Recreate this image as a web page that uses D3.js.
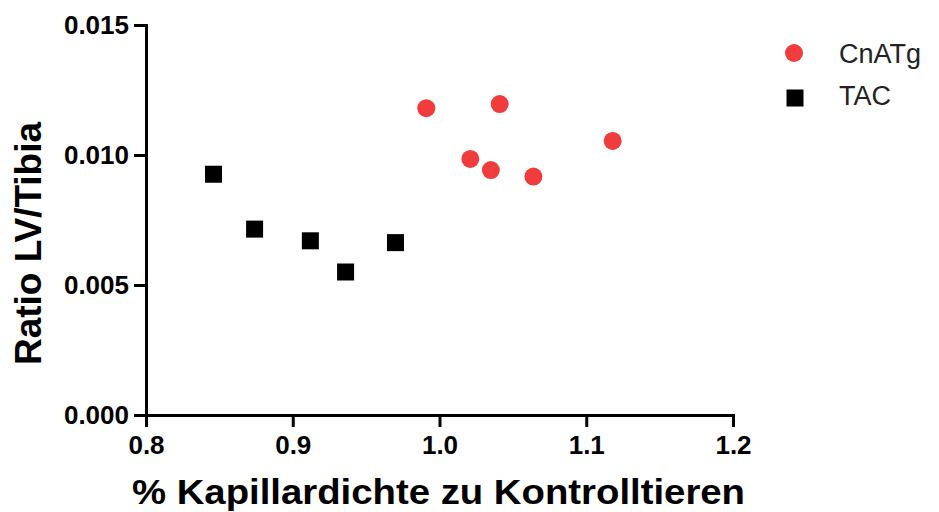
<!DOCTYPE html>
<html>
<head>
<meta charset="utf-8">
<script src="https://cdn.jsdelivr.net/npm/d3@7"></script>
<style>
  body { margin: 0; background: #fff; }
  svg { display: block; font-family: "Liberation Sans", Arial, sans-serif; }
  .axis path, .axis line { stroke: #000; stroke-width: 3; }
  .axis text { fill: #000; font-weight: bold; }
</style>
</head>
<body>
<div id="chart"></div>
<script>
// Data
const cnatgX = [0.991, 1.041, 1.021, 1.035, 1.064, 1.118];
const cnatgY = [0.01180, 0.01196, 0.00985, 0.00942, 0.00917, 0.01054];
const tacX = [0.846, 0.874, 0.912, 0.936, 0.970];
const tacY = [0.00926, 0.00715, 0.00670, 0.00550, 0.00663];
const xTicks = [0.8, 0.9, 1.0, 1.1, 1.2];
const yTicks = [0.000, 0.005, 0.010, 0.015];
const seriesNames = ["CnATg", "TAC"];

const W = 939, H = 512;
const margin = { top: 25, left: 146, right: 206, bottom: 97 };
const width = W - margin.left - margin.right;
const height = H - margin.top - margin.bottom;

const svg = d3.select("#chart").append("svg")
    .attr("width", W)
    .attr("height", H);

const g = svg.append("g")
    .attr("transform", `translate(${margin.left},${margin.top})`);

const x = d3.scaleLinear().domain([0.8, 1.2]).range([0, width]);
const y = d3.scaleLinear().domain([0, 0.015]).range([height, 0]);

// Axes
g.append("g")
    .attr("class", "axis")
    .call(d3.axisLeft(y).tickValues(yTicks).tickFormat(d3.format(".3f"))
        .tickSize(12).tickSizeOuter(0).tickPadding(5))
    .selectAll("text")
    .style("font-size", "26px");

g.append("g")
    .attr("class", "axis")
    .attr("transform", `translate(0,${height})`)
    .call(d3.axisBottom(x).tickValues(xTicks).tickFormat(d3.format(".1f"))
        .tickSize(12).tickSizeOuter(0).tickPadding(9))
    .selectAll("text")
    .style("font-size", "26px");

g.selectAll(".axis path").attr("stroke-linecap", "square");

// Axis titles
svg.append("text")
    .attr("x", 132)
    .attr("y", 504)
    .attr("textLength", 613)
    .attr("lengthAdjust", "spacingAndGlyphs")
    .style("font-size", "35px")
    .style("font-weight", "bold")
    .text("% Kapillardichte zu Kontrolltieren");

svg.append("text")
    .attr("transform", "translate(41,365) rotate(-90)")
    .attr("textLength", 243)
    .attr("lengthAdjust", "spacingAndGlyphs")
    .style("font-size", "37px")
    .style("font-weight", "bold")
    .text("Ratio LV/Tibia");

// Points
const red = "#f03c3c";
const sq = 17;

g.selectAll("circle.cnatg")
    .data(cnatgX.map((d, i) => [d, cnatgY[i]]))
    .enter().append("circle")
    .attr("class", "cnatg")
    .attr("cx", d => x(d[0]))
    .attr("cy", d => y(d[1]))
    .attr("r", 9)
    .attr("fill", red);

g.selectAll("rect.tac")
    .data(tacX.map((d, i) => [d, tacY[i]]))
    .enter().append("rect")
    .attr("class", "tac")
    .attr("x", d => x(d[0]) - sq / 2)
    .attr("y", d => y(d[1]) - sq / 2)
    .attr("width", sq)
    .attr("height", sq)
    .attr("fill", "#000");

// Legend
const legend = svg.append("g").attr("transform", "translate(794,0)");
legend.append("circle").attr("cx", 0).attr("cy", 53).attr("r", 9).attr("fill", red);
legend.append("rect").attr("x", -sq / 2 + 1).attr("y", 98 - sq / 2).attr("width", sq).attr("height", sq).attr("fill", "#000");
legend.selectAll("text")
    .data(seriesNames)
    .enter().append("text")
    .attr("x", 45)
    .attr("y", (d, i) => 63 + i * 42)
    .style("font-size", "27px")
    .style("fill", "#222")
    .text(d => d);
</script>
</body>
</html>
